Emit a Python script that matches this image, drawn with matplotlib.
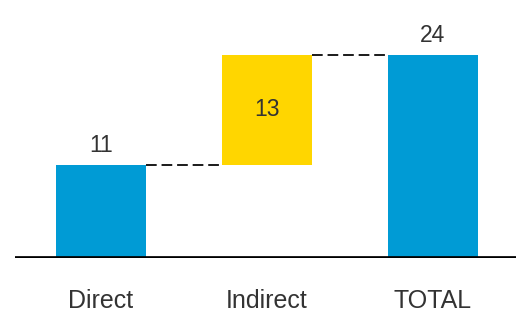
import matplotlib

matplotlib.use("Agg")
import matplotlib.pyplot as plt

categories = ["Direct", "Indirect", "TOTAL"]
values = [11, 13, 24]
colors = ["#009bd5", "#ffd600", "#009bd5"]

plt.rcParams["font.family"] = ["Liberation Sans", "DejaVu Sans"]

fig = plt.figure(figsize=(5.16, 3.15), dpi=100)
ax = fig.add_axes([15 / 516, 57 / 315, 501 / 516, 258 / 315])

# waterfall: the middle step floats on top of the first bar
bottoms = [0, values[0], 0]
x = list(range(len(categories)))
width = 0.54
ax.bar(x, values, width=width, bottom=bottoms, color=colors, zorder=2)

# connectors between bar tops
tops = [b + v for b, v in zip(bottoms, values)]
for i in range(len(x) - 1):
    ax.plot([x[i] + width / 2, x[i + 1] - width / 2], [tops[i], tops[i]],
            color="#1a1a1a", lw=1.4, ls=(0, (5.5, 2.5)), zorder=1)

label_color = "#333333"
for i in (0, 2):
    ax.annotate(str(values[i]), (x[i], tops[i]), xytext=(0, 9),
                textcoords="offset points", ha="center", va="baseline",
                fontsize=16.5, color=label_color)
ax.text(x[1], bottoms[1] + values[1] / 2, str(values[1]), ha="center",
        va="center", fontsize=16.5, color=label_color)

ax.axhline(0, color="black", lw=3.4, zorder=3)

ax.set_xlim(-0.518, 2.5)
ax.set_ylim(0, 258 / 8.46)
ax.set_xticks(x)
ax.set_xticklabels(categories, fontsize=18, color=label_color)
ax.tick_params(axis="x", length=0, pad=22)
ax.set_yticks([])
for spine in ax.spines.values():
    spine.set_visible(False)

fig.savefig("out.png", dpi=100)
